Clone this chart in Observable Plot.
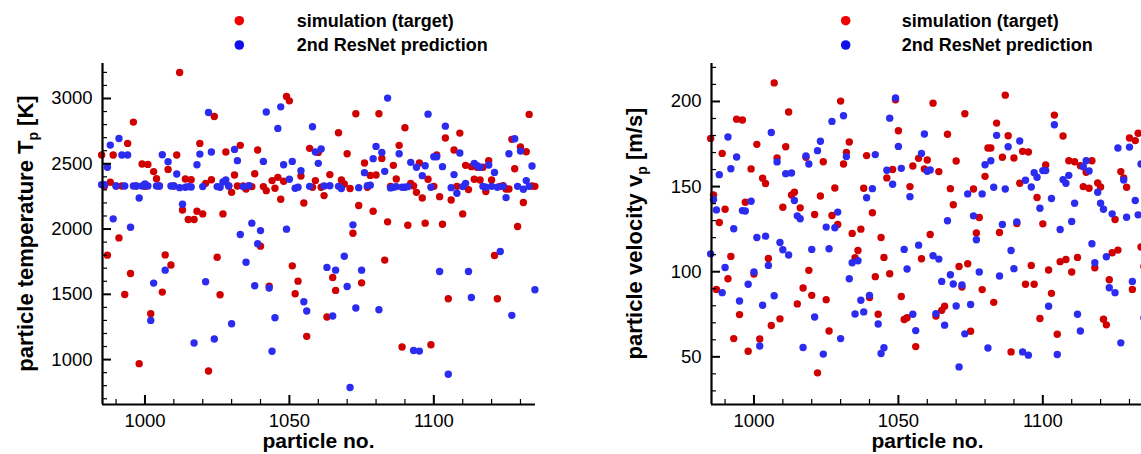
<!DOCTYPE html>
<html><head><meta charset="utf-8">
<script src="https://cdn.jsdelivr.net/npm/d3@7"></script>
<script src="https://cdn.jsdelivr.net/npm/@observablehq/plot@0.6"></script>
<style>
html,body{margin:0;padding:0;background:#fff;overflow:hidden;}
#wrap{position:relative;width:1141px;height:454px;overflow:hidden;}
.panel{position:absolute;top:0;width:560px;height:454px;}
.panel svg{max-width:none !important;}
</style></head><body><div id="wrap"></div>
<script>
// ---------------- data ----------------
const particleNo = [985,986,987,988,989,990,991,992,993,994,
995,996,997,998,999,1000,1001,1002,1003,1004,
1005,1006,1007,1008,1009,1010,1011,1012,1013,1014,
1015,1016,1017,1018,1019,1020,1021,1022,1023,1024,
1025,1026,1027,1028,1029,1030,1031,1032,1033,1034,
1035,1036,1037,1038,1039,1040,1041,1042,1043,1044,
1045,1046,1047,1048,1049,1050,1051,1052,1053,1054,
1055,1056,1057,1058,1059,1060,1061,1062,1063,1064,
1065,1066,1067,1068,1069,1070,1071,1072,1073,1074,
1075,1076,1077,1078,1079,1080,1081,1082,1083,1084,
1085,1086,1087,1088,1089,1090,1091,1092,1093,1094,
1095,1096,1097,1098,1099,1100,1101,1102,1103,1104,
1105,1106,1107,1108,1109,1110,1111,1112,1113,1114,
1115,1116,1117,1118,1119,1120,1121,1122,1123,1124,
1125,1126,1127,1128,1129,1130,1131,1132,1133,1134,
1135];

// particle temperature T_p [K]
const tempSimulation = [2567,2330,1800,2358,2567,2330,1932,2330,1499,2656,
1660,2819,2330,969,2498,2327,2495,1351,2440,2386,
2330,1517,1802,2457,1725,2330,2567,3199,2146,2383,
2073,2378,2073,2136,2656,2116,2350,913,2378,2862,
1784,1497,2116,2590,2330,2281,2414,2330,2641,2330,
2307,2332,2325,2424,2605,1869,2325,2294,1563,2371,
2312,2396,2228,2366,3015,2982,1718,1504,1601,2406,
2200,1178,2618,2320,2371,2587,2320,2256,1326,2417,
1629,1530,2738,2376,2345,2577,2310,1968,2883,2180,
1588,2506,2320,2411,2136,2414,2883,2541,1762,2055,
2327,2488,2383,2641,1097,2776,2029,2350,2330,2281,
2506,2238,2045,2381,1114,2327,2567,2248,2037,2697,
1466,2223,2605,2327,2735,2116,2488,2302,2478,2381,
2473,2376,2473,2287,2524,2376,1797,1466,2327,2332,
2307,2307,2687,2462,2019,2628,2203,2592,2878,2330,
2327];
const tempPrediction = [2340,2340,2473,2643,2078,2330,2694,2567,2330,2567,
2014,2330,2330,2238,2330,2345,2330,1300,1586,2330,
2330,2569,1685,2516,2330,2330,2422,2317,2190,2320,
2325,2322,1127,2493,2574,2325,1596,2893,2590,1158,
2325,2320,2360,2376,2330,1275,2610,2524,1958,2325,
1746,2332,2045,1566,1887,1988,2518,2896,1548,1064,
1321,2771,2936,2493,1999,2381,2518,2312,2320,2447,
1443,1372,2327,2783,2590,2503,2613,2330,1706,2332,
1334,1685,2327,2310,1792,1560,786,2032,1395,2317,
1685,2432,2332,2335,2539,2633,1382,2587,2442,3003,
2315,2320,2325,2577,2320,2320,2325,2511,1070,2473,
1065,2409,2485,2880,2320,2554,2554,1675,2478,2788,
888,2317,2417,2274,2582,2325,2350,1675,1476,2503,
2485,2473,2327,2320,2490,2327,2434,2320,1828,2327,
2241,2577,1339,2692,2327,2597,2305,2371,2327,2483,
1535];

// particle velocity v_p [m/s]
const velSimulation = [178.3,145.1,89.6,128.9,169.5,136.7,95.9,109,60.7,189.6,
74.8,189.1,140.8,53.3,160.4,98.6,174.8,60.5,154.9,151.8,
107.8,68.4,210.9,166.8,72.3,137.9,173.4,193.8,145.1,146.7,
81.1,137.5,90.4,167.2,100.8,86.1,133.6,40.6,144.5,164.6,
83.6,65.2,133,149.2,127.7,200.2,163.3,170.1,176.2,122.5,
108.2,112.5,125,149,168.2,84.8,134.6,97.1,75,120.1,
108.4,155.1,98.8,160,201,182.8,85.4,71.9,73,150,
162.1,56,166.6,107.6,160.4,165.6,121.9,199,74,158.8,
77.3,79.7,180.7,148.8,139.3,165,103.1,91,192.8,104.7,
65,148.6,122.7,131.8,89.5,156,172.7,172.7,82,187.3,
123,167.2,203.7,179.9,52.9,166.8,128.3,152,170.7,92.6,
170.3,103.7,92.6,143.6,72.5,128.1,162.7,101,87.3,192,
63.3,105.9,179.7,107.2,165.2,99.8,164.6,108.4,162.3,150,
158.4,149,165.2,102.3,152.1,149.8,72.1,68.8,95.3,111.1,
130.7,112.7,158.8,155,149.6,178.5,89.6,177,181.3,114.5,
103.1];
const velPrediction = [110.5,142.4,136.3,157,87.7,102.5,179.1,160.5,125.2,167.4,
82.8,135.9,135.7,92.6,141.4,99.8,120.1,56.4,80.3,120.9,
103.7,181.8,85.9,164.5,117.2,112.9,157.6,109.8,158,141.8,
132.8,131.1,55.5,168,163.3,113.1,73.4,171.1,176.6,51.6,
126.2,113.5,188.3,125.8,135,60.7,191.6,167.6,95.9,105.3,
75.2,106.4,83.2,76.4,143.4,86.1,148.8,168.8,69.3,52,
55.3,159.6,190.2,151.4,202,173.6,160.7,113.1,101.6,144.1,
75,65.4,115.6,169.5,180.9,159,159.8,109.4,75.4,107.4,
94.3,68.6,129.9,98.2,92.8,79.9,44.1,92.2,63.5,145.7,
80.7,132.8,118.8,99.8,145.7,162.8,55.2,165.2,149.6,180.1,
97.5,127.7,148.6,173.4,112.5,101.8,129.3,176.8,52.9,153.7,
51,149.8,158.2,155.5,137.3,159.4,159.4,79.7,143,186.3,
51.4,124.8,154.1,152,156.6,129.5,140.2,75,65.2,161.7,
165.2,159.2,116.4,105.3,146.7,140.2,136.7,108.8,90.6,134,
87.7,172.7,58.2,153.9,132,173.2,94.3,141.8,133.4,163.3,
72.9];

// axes / ticks
const xDomain = [985.3, 1135.2];
const xMajorTicks = [1000, 1050, 1100];
const xMinorTicks = [990,1010,1020,1030,1040,1060,1070,1080,1090,1110,1120,1130];
const tempDomain = [656, 3268];
const tempMajorTicks = [1000, 1500, 2000, 2500, 3000];
const tempMinorTicks = [700,800,900,1100,1200,1300,1400,1600,1700,1800,1900,2100,2200,2300,2400,2600,2700,2800,2900,3100,3200];
const velDomain = [22, 222.3];
const velMajorTicks = [50, 100, 150, 200];
const velMinorTicks = [30,40,60,70,80,90,110,120,130,140,160,170,180,190,210,220];

const seriesNames = ["simulation (target)", "2nd ResNet prediction"];
const xLabel = "particle no.";

// ---------------- style ----------------
const FONT = "'Liberation Sans', Arial, Helvetica, sans-serif";
const RED = "#d00000";
const BLUE = "#2c2cf0";
const LEG_RED = "#f00000";
const LEG_BLUE = "#1010e8";

function panel({sim, pred, yDomain, yMajor, yMinor, labelMain, labelSub, labelUnit, left, legDot, legText}) {
  const W = 560, H = 454, mL = 102, mR = 25, mT = 63, mB = 50;
  const plotW = W - mL - mR, plotH = H - mT - mB;
  const rows = particleNo.map((p, i) => ({p, sim: sim[i], pred: pred[i]}));
  const chart = Plot.plot({
    width: W, height: H,
    marginLeft: mL, marginRight: mR, marginTop: mT, marginBottom: mB,
    style: {fontFamily: FONT, fontSize: "18px", color: "#000", background: "transparent", overflow: "visible", maxWidth: "none"},
    x: {domain: xDomain},
    y: {domain: yDomain},
    marks: [
      Plot.dot(rows, {x: "p", y: "sim", r: 3.7, fill: RED}),
      Plot.dot(rows, {x: "p", y: "pred", r: 3.7, fill: BLUE}),
      Plot.tickX(xMinorTicks, {x: d => d, stroke: "#000", strokeWidth: 1.2, insetTop: plotH - 5}),
      Plot.tickX(xMajorTicks, {x: d => d, stroke: "#000", strokeWidth: 2, insetTop: plotH - 9}),
      Plot.tickY(yMinor, {y: d => d, stroke: "#000", strokeWidth: 1.2, insetRight: plotW - 5}),
      Plot.tickY(yMajor, {y: d => d, stroke: "#000", strokeWidth: 2, insetRight: plotW - 9}),
      Plot.ruleX([xDomain[0]], {stroke: "#000", strokeWidth: 2.2}),
      Plot.ruleY([yDomain[0]], {stroke: "#000", strokeWidth: 2.2}),
      Plot.axisX({ticks: xMajorTicks, tickSize: 0, tickPadding: 9, tickFormat: d => String(d), label: null, fontSize: 18.5}),
      Plot.axisY({ticks: yMajor, tickSize: 0, tickPadding: 10, tickFormat: d => String(d), label: null, fontSize: 18.5})
    ]
  });
  chart.style.maxWidth = "none";
  const svg = d3.select(chart);
  // y axis title with subscript
  const yt = svg.append("text")
    .attr("transform", `translate(33,${mT + plotH / 2}) rotate(-90)`)
    .attr("text-anchor", "middle")
    .attr("font-family", FONT).attr("font-weight", "bold").attr("font-size", 22).attr("fill", "#000");
  yt.append("tspan").text(labelMain);
  yt.append("tspan").attr("font-size", 14).attr("dy", 5).text(labelSub);
  yt.append("tspan").attr("dy", -5).text(" " + labelUnit);
  // x axis title
  svg.append("text")
    .attr("x", mL + plotW / 2).attr("y", 448)
    .attr("text-anchor", "middle")
    .attr("font-family", FONT).attr("font-weight", "bold").attr("font-size", 21).attr("fill", "#000")
    .text(xLabel);
  // legend
  const legColors = [LEG_RED, LEG_BLUE];
  const dotY = [20.7, 45], baseY = [26.8, 51.2];
  seriesNames.forEach((name, i) => {
    svg.append("circle").attr("cx", legDot).attr("cy", dotY[i]).attr("r", 4.8).attr("fill", legColors[i]);
    svg.append("text").attr("x", legText).attr("y", baseY[i])
      .attr("text-anchor", "start")
      .attr("font-family", FONT).attr("font-weight", "bold").attr("font-size", 18).attr("fill", "#000")
      .text(name);
  });
  const div = document.createElement("div");
  div.className = "panel";
  div.style.left = left + "px";
  div.appendChild(chart);
  document.getElementById("wrap").appendChild(div);
}

panel({sim: tempSimulation, pred: tempPrediction, yDomain: tempDomain, yMajor: tempMajorTicks, yMinor: tempMinorTicks,
  labelMain: "particle temperature T", labelSub: "p", labelUnit: "[K]", left: 0, legDot: 239.3, legText: 296.7});
panel({sim: velSimulation, pred: velPrediction, yDomain: velDomain, yMajor: velMajorTicks, yMinor: velMinorTicks,
  labelMain: "particle velocity v", labelSub: "p", labelUnit: "[m/s]", left: 609, legDot: 236.7, legText: 292.7});
</script></body></html>
